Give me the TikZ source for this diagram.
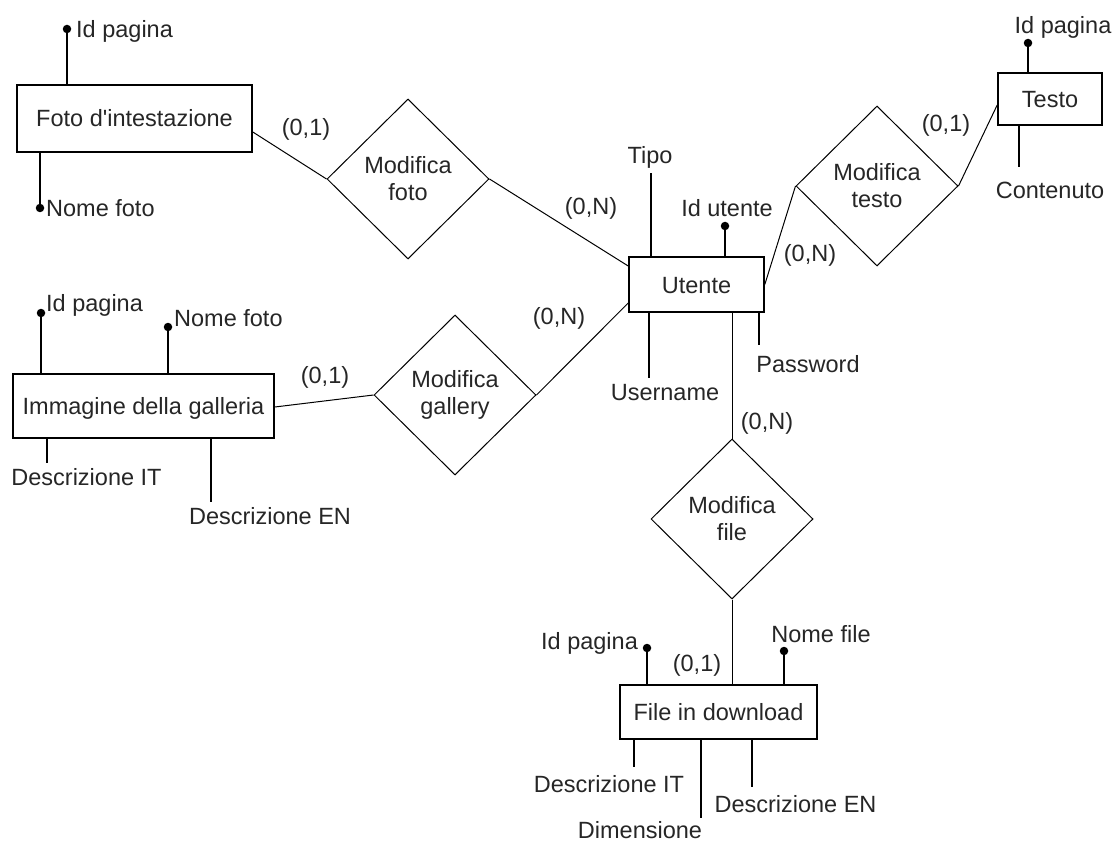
\documentclass[tikz,border=0pt]{standalone}
\usepackage{fontspec}
\setmainfont{Liberation Sans}[Ligatures=TeXOff]
\usetikzlibrary{shapes.geometric, calc}

\begin{document}
\begin{tikzpicture}[x=1pt, y=-1pt,
    every node/.style={font=\fontsize{23.5}{27}\selectfont, text=black!85},
    entity/.style={draw, line width=1.6pt, inner sep=0pt, text height=17pt, text depth=0pt},
    relation/.style={draw, diamond, line width=1pt, inner sep=0pt,
                     minimum width=162pt, minimum height=160pt, align=center},
    keydot/.style={circle, fill=black, inner sep=0pt, minimum size=8.5pt},
    attr/.style={inner sep=0pt, text height=17pt, text depth=0pt},
    attrline/.style={line width=1.6pt},
    link/.style={line width=1pt}]
  \useasboundingbox (0,0) rectangle (1115,842);

  % Entities
  \node[entity, minimum width=235pt, minimum height=67pt] (foto) at (134.5,118.5) {Foto d'intestazione};
  \node[entity, minimum width=261pt, minimum height=64pt] (imm) at (143.5,406) {Immagine della galleria};
  \node[entity, minimum width=135pt, minimum height=55pt] (utente) at (696.5,284.5) {Utente};
  \node[entity, minimum width=104pt, minimum height=52pt] (testo) at (1050,99) {Testo};
  \node[entity, minimum width=197pt, minimum height=54pt] (file) at (718.5,712) {File in download};

  % Relationships
  \node[relation] (mfoto) at (408,179) {Modifica\\foto};
  \node[relation] (mgal) at (455,395) {Modifica\\gallery};
  \node[relation] (mtesto) at (877,186) {Modifica\\testo};
  \node[relation] (mfile) at (732,519) {Modifica\\file};

  % Links
  \draw[link] ($(foto.east)+(0,13.5)$) -- (mfoto.west);
  \draw[link] (mfoto.east) -- ($(utente.west)+(0,-18.5)$);
  \draw[link] ($(imm.east)+(0,1)$) -- (mgal.west);
  \draw[link] (mgal.east) -- ($(utente.west)+(0,18.5)$);
  \draw[link] (utente.east) -- (mtesto.west);
  \draw[link] (mtesto.east) -- ($(testo.west)+(0,6)$);
  \draw[link] (mfile.north |- utente.south) -- (mfile.north);
  \draw[link] (mfile.south) -- (mfile.south |- file.north);

  % Cardinalities
  \node[attr] (c1) at (306,127) {(0,1)};
  \node[attr] (c2) at (591,206) {(0,N)};
  \node[attr] (c3) at (325,375) {(0,1)};
  \node[attr] (c4) at (559,315.5) {(0,N)};
  \node[attr] (c5) at (810,253) {(0,N)};
  \node[attr] (c6) at (946,123.5) {(0,1)};
  \node[attr] (c7) at (767,420.5) {(0,N)};
  \node[attr] (c8) at (697,662.5) {(0,1)};

  % Foto d'intestazione attributes
  \node[keydot] (fotoK) at (67,29) {};
  \draw[attrline] (fotoK) -- (fotoK |- foto.north);
  \node[attr, anchor=west] (fotoKL) at (76,29.5) {Id pagina};
  \node[keydot] (fotoN) at (40,208) {};
  \draw[attrline] (fotoN) -- (fotoN |- foto.south);
  \node[attr, anchor=west] (fotoNL) at (46,208.5) {Nome foto};

  % Immagine della galleria attributes
  \node[keydot] (immK) at (41,313) {};
  \draw[attrline] (immK) -- (immK |- imm.north);
  \node[attr, anchor=west] (immKL) at (46,302.5) {Id pagina};
  \node[keydot] (immN) at (168,327) {};
  \draw[attrline] (immN) -- (immN |- imm.north);
  \node[attr, anchor=west] (immNL) at (174,317.5) {Nome foto};
  \coordinate (immIt) at (47,463);
  \draw[attrline] (immIt |- imm.south) -- (immIt);
  \node[attr] (immItL) at (86.5,476.5) {Descrizione IT};
  \coordinate (immEn) at (211,502);
  \draw[attrline] (immEn |- imm.south) -- (immEn);
  \node[attr] (immEnL) at (270,516) {Descrizione EN};

  % Utente attributes
  \coordinate (tipo) at (651,173);
  \draw[attrline] (tipo |- utente.north) -- (tipo);
  \node[attr] (tipoL) at (650,155.5) {Tipo};
  \node[keydot] (utK) at (725,226) {};
  \draw[attrline] (utK) -- (utK |- utente.north);
  \node[attr] (utKL) at (727,208) {Id utente};
  \coordinate (user) at (649,378);
  \draw[attrline] (user |- utente.south) -- (user);
  \node[attr] (userL) at (665,392) {Username};
  \coordinate (pass) at (759,345);
  \draw[attrline] (pass |- utente.south) -- (pass);
  \node[attr] (passL) at (808,363.5) {Password};

  % Testo attributes
  \node[keydot] (testoK) at (1028,43) {};
  \draw[attrline] (testoK) -- (testoK |- testo.north);
  \node[attr] (testoKL) at (1063,25.5) {Id pagina};
  \coordinate (cont) at (1019,167);
  \draw[attrline] (cont |- testo.south) -- (cont);
  \node[attr] (contL) at (1050,190) {Contenuto};

  % File in download attributes
  \node[keydot] (fileK) at (647,648) {};
  \draw[attrline] (fileK) -- (fileK |- file.north);
  \node[attr] (fileKL) at (589.5,640.5) {Id pagina};
  \node[keydot] (fileN) at (784,651) {};
  \draw[attrline] (fileN) -- (fileN |- file.north);
  \node[attr] (fileNL) at (821,633.5) {Nome file};
  \coordinate (fileIt) at (634,767);
  \draw[attrline] (fileIt |- file.south) -- (fileIt);
  \node[attr] (fileItL) at (609,784) {Descrizione IT};
  \coordinate (dim) at (701,818);
  \draw[attrline] (dim |- file.south) -- (dim);
  \node[attr] (dimL) at (640,829.5) {Dimensione};
  \coordinate (fileEn) at (752,787);
  \draw[attrline] (fileEn |- file.south) -- (fileEn);
  \node[attr] (fileEnL) at (795.5,803.5) {Descrizione EN};
\end{tikzpicture}
\end{document}
